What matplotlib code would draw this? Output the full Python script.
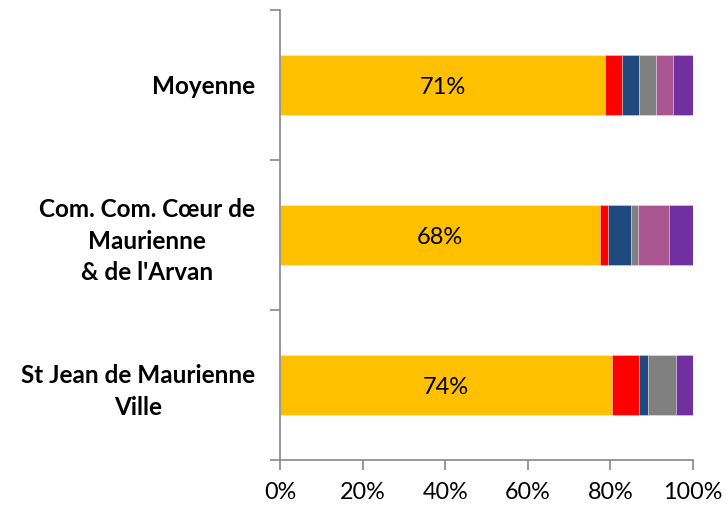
import matplotlib
matplotlib.use("Agg")
import matplotlib.pyplot as plt
import numpy as np

plt.rcParams['font.family'] = ['Lato', 'DejaVu Sans']

categories = ["St Jean de Maurienne\nVille", "Com. Com. Cœur de\nMaurienne\n& de l'Arvan", "Moyenne"]
yellow = [80.4, 77.5, 78.8]
red = [6.5, 1.8, 4.1]
blue = [2.2, 5.7, 4.0]
gray = [6.7, 1.8, 4.2]
pink = [0.0, 7.5, 4.0]
purple = [4.2, 5.8, 4.9]
bar_labels = ["74%", "68%", "71%"]

series = [yellow, red, blue, gray, pink, purple]
colors = ["#FFC000", "#FF0000", "#1F497D", "#808080", "#A9558F", "#7030A0"]

fig = plt.figure(figsize=(7.26, 5.05), dpi=100)
ax = fig.add_axes([280/726, 1-460/505, (693-280)/726, 450/505])

y = np.arange(len(categories))
left = np.zeros(len(categories))
for vals, c in zip(series, colors):
    ax.barh(y, vals, left=left, height=0.4, color=c, edgecolor=(1, 1, 1, 0.35), linewidth=0.6)
    left += np.array(vals)

for i, lab in enumerate(bar_labels):
    ax.text(yellow[i] / 2, y[i], lab, ha='center', va='center_baseline', fontsize=17, color='black')

ax.set_xlim(0, 100)
ax.set_ylim(-0.5, 2.5)
ax.set_xticks(np.arange(0, 101, 20))
ax.set_xticklabels([f"{v}%" for v in range(0, 101, 20)], fontsize=16.8)
ax.set_yticks(y)
ax.set_yticklabels(categories, fontsize=17.5, fontweight='bold')
for t in ax.get_yticklabels():
    t.set_multialignment('center')
    t.set_linespacing(1.45)
ax.tick_params(axis='y', which='major', length=0, pad=18)
ax.set_yticks([-0.5, 0.5, 1.5, 2.5], minor=True)
ax.tick_params(axis='y', which='minor', length=7, color='#888888', width=1.2, direction='out')
ax.tick_params(axis='x', which='major', length=7, color='#888888', width=1.2, direction='out', pad=9)

for s in ['top', 'right']:
    ax.spines[s].set_visible(False)
for s in ['left', 'bottom']:
    ax.spines[s].set_color('#888888')
    ax.spines[s].set_linewidth(1.2)

fig.savefig("out.png", dpi=100)
